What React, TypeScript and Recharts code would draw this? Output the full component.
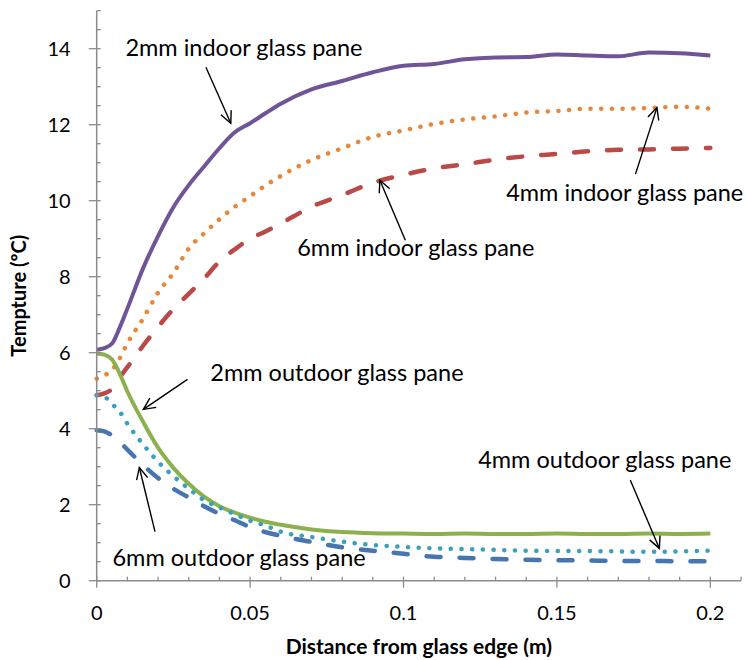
import React from 'react'
import { LineChart, Line, XAxis, YAxis, ReferenceLine, ReferenceDot } from 'recharts'

// distance from glass edge (m)
const distance = [
  0, 0.0025, 0.005, 0.0075, 0.01, 0.015, 0.02, 0.025, 0.03, 0.035, 0.04, 0.045, 0.05, 0.055, 0.06,
  0.07, 0.08, 0.09, 0.1, 0.11, 0.12, 0.13, 0.14, 0.15, 0.16, 0.17, 0.18, 0.19, 0.2,
]

// temperature (ºC) per pane
const indoor2mm = [
  6.08, 6.12, 6.24, 6.66, 7.16, 8.2, 9.07, 9.83, 10.41, 10.9, 11.38, 11.8, 12.04, 12.3, 12.55,
  12.93, 13.15, 13.38, 13.55, 13.6, 13.72, 13.77, 13.78, 13.85, 13.82, 13.8, 13.9, 13.88, 13.82,
]
const indoor4mm = [
  5.32, 5.4, 5.55, 5.85, 6.25, 6.88, 7.58, 8.1, 8.74, 9.14, 9.51, 9.84, 10.12, 10.4, 10.65,
  11.07, 11.38, 11.68, 11.85, 12.02, 12.14, 12.22, 12.32, 12.36, 12.42, 12.42, 12.44, 12.47, 12.42,
]
const indoor6mm = [
  4.88, 4.93, 5.05, 5.35, 5.62, 6.17, 6.68, 7.15, 7.55, 7.95, 8.4, 8.72, 9.0, 9.19, 9.4,
  9.84, 10.15, 10.47, 10.68, 10.85, 10.96, 11.08, 11.17, 11.23, 11.3, 11.34, 11.35, 11.37, 11.39,
]
const outdoor2mm = [
  5.98, 5.95, 5.82, 5.45, 4.98, 4.2, 3.5, 2.97, 2.55, 2.21, 1.96, 1.79, 1.66, 1.55, 1.47,
  1.35, 1.28, 1.25, 1.24, 1.23, 1.24, 1.23, 1.23, 1.24, 1.23, 1.23, 1.24, 1.23, 1.24,
]
const outdoor4mm = [
  4.88, 4.84, 4.65, 4.45, 4.13, 3.6, 3.13, 2.75, 2.42, 2.12, 1.93, 1.75, 1.58, 1.45, 1.29,
  1.15, 1.03, 0.94, 0.89, 0.85, 0.83, 0.81, 0.79, 0.78, 0.78, 0.77, 0.76, 0.77, 0.79,
]
const outdoor6mm = [
  3.96, 3.93, 3.82, 3.65, 3.45, 3.05, 2.7, 2.42, 2.19, 1.96, 1.76, 1.59, 1.41, 1.28, 1.18,
  1.02, 0.88, 0.79, 0.71, 0.63, 0.6, 0.57, 0.55, 0.54, 0.53, 0.52, 0.52, 0.51, 0.51,
]

const xTicks = [
  0, 0.01, 0.02, 0.03, 0.04, 0.05, 0.06, 0.07, 0.08, 0.09, 0.1, 0.11, 0.12, 0.13, 0.14, 0.15,
  0.16, 0.17, 0.18, 0.19, 0.2, 0.21,
]
const xLabeled = [0, 0.05, 0.1, 0.15, 0.2]
const yTicks = [
  0, 0.5, 1, 1.5, 2, 2.5, 3, 3.5, 4, 4.5, 5, 5.5, 6, 6.5, 7, 7.5, 8, 8.5, 9, 9.5, 10, 10.5, 11,
  11.5, 12, 12.5, 13, 13.5, 14, 14.5, 15,
]
const yLabeled = [0, 2, 4, 6, 8, 10, 12, 14]

// callouts: text centre and arrow (tail -> head), in data units
const callouts = [
  { text: '2mm indoor glass pane', tx: 0.048, ty: 14.03, x1: 0.0356, y1: 13.51, x2: 0.0437, y2: 12.04 },
  { text: '4mm indoor glass pane', tx: 0.1721, ty: 10.22, x1: 0.1756, y1: 10.7, x2: 0.1826, y2: 12.45 },
  { text: '6mm indoor glass pane', tx: 0.104, ty: 8.75, x1: 0.1006, y1: 8.96, x2: 0.0923, y2: 10.54 },
  { text: '2mm outdoor glass pane', tx: 0.0783, ty: 5.46, x1: 0.0296, y1: 5.3, x2: 0.0152, y2: 4.51 },
  { text: '6mm outdoor glass pane', tx: 0.0464, ty: 0.6, x1: 0.019, y1: 1.29, x2: 0.0139, y2: 2.98 },
  { text: '4mm outdoor glass pane', tx: 0.1656, ty: 3.17, x1: 0.1739, y1: 2.65, x2: 0.1834, y2: 0.85 },
]

const data = distance.map((x, i) => ({
  x,
  indoor2mm: indoor2mm[i],
  indoor4mm: indoor4mm[i],
  indoor6mm: indoor6mm[i],
  outdoor2mm: outdoor2mm[i],
  outdoor4mm: outdoor4mm[i],
  outdoor6mm: outdoor6mm[i],
}))

const FONT = 'Lato, "Open Sans", sans-serif'
const AXIS = '#8c8c8c'

const XTick = (props: any) => {
  const { x, y, payload } = props
  const major = xLabeled.some((v) => Math.abs(v - payload.value) < 1e-9)
  return (
    <g>
      <line x1={x} x2={x} y1={y - 4} y2={major ? y + 7 : y} stroke={AXIS} strokeWidth={1.3} />
      {major && (
        <text x={x} y={y + 32} dy="0.35em" textAnchor="middle" fontSize={20} fontFamily={FONT} fill="#000">
          {payload.value}
        </text>
      )}
    </g>
  )
}

const YTick = (props: any) => {
  const { x, y, payload } = props
  const major = yLabeled.includes(payload.value)
  return (
    <g>
      <line x1={major ? x - 8 : x} x2={x + 4} y1={y} y2={y} stroke={AXIS} strokeWidth={1.3} />
      {major && (
        <text x={x - 26} y={y} dy="0.36em" textAnchor="end" fontSize={20} fontFamily={FONT} fill="#000">
          {payload.value}
        </text>
      )}
    </g>
  )
}

const Arrow = (props: any) => {
  const { x1, y1, x2, y2 } = props
  const a = Math.atan2(y2 - y1, x2 - x1)
  const len = 13
  const spread = 0.45
  const h1x = x2 - len * Math.cos(a - spread)
  const h1y = y2 - len * Math.sin(a - spread)
  const h2x = x2 - len * Math.cos(a + spread)
  const h2y = y2 - len * Math.sin(a + spread)
  return (
    <g stroke="#000" strokeWidth={1.4} fill="none">
      <line x1={x1} y1={y1} x2={x2} y2={y2} />
      <polyline points={`${h1x},${h1y} ${x2},${y2} ${h2x},${h2y}`} />
    </g>
  )
}

export default function App() {
  return (
    <div style={{ position: 'absolute', left: 0, top: 0, background: '#fff' }}>
      <LineChart width={746} height={660} data={data} margin={{ top: 10.7, right: 5, left: 0, bottom: 0 }}>
        <XAxis
          type="number"
          dataKey="x"
          domain={[0, 0.21]}
          ticks={xTicks}
          interval={0}
          tick={<XTick />}
          tickLine={false}
          tickSize={0}
          tickMargin={0}
          axisLine={{ stroke: AXIS, strokeWidth: 1.5 }}
          height={79.3}
          label={(p: any) => {
            const vb = p.viewBox
            return (
              <text
                x={vb.x + vb.width / 2}
                y={vb.y + 66}
                dy="0.35em"
                textAnchor="middle"
                fontSize={21}
                fontWeight="bold"
                fontFamily={FONT}
                fill="#000"
              >
                Distance from glass edge (m)
              </text>
            )
          }}
        />
        <YAxis
          type="number"
          domain={[0, 15]}
          ticks={yTicks}
          interval={0}
          tick={<YTick />}
          tickLine={false}
          tickSize={0}
          tickMargin={0}
          axisLine={{ stroke: AXIS, strokeWidth: 1.5 }}
          width={96.7}
          label={(p: any) => {
            const vb = p.viewBox
            const cy = vb.y + vb.height / 2
            return (
              <text
                x={19}
                y={cy}
                dy="0.35em"
                transform={`rotate(-90 19 ${cy})`}
                textAnchor="middle"
                fontSize={20}
                fontWeight="bold"
                fontFamily={FONT}
                fill="#000"
              >
                Tempture (ºC)
              </text>
            )
          }}
        />
        <Line dataKey="indoor2mm" type="monotone" stroke="#6f5597" strokeWidth={4} dot={false} isAnimationActive={false} />
        <Line
          dataKey="indoor4mm"
          type="monotone"
          stroke="#e8873a"
          strokeWidth={4.5}
          strokeDasharray="0.1 10.6"
          strokeLinecap="round"
          dot={false}
          isAnimationActive={false}
        />
        <Line
          dataKey="indoor6mm"
          type="monotone"
          stroke="#b94a48"
          strokeWidth={4.5}
          strokeDasharray="14 19"
          strokeLinecap="round"
          dot={false}
          isAnimationActive={false}
        />
        <Line dataKey="outdoor2mm" type="monotone" stroke="#8db04f" strokeWidth={4} dot={false} isAnimationActive={false} />
        <Line
          dataKey="outdoor4mm"
          type="monotone"
          stroke="#3aa0bc"
          strokeWidth={4.5}
          strokeDasharray="0.1 10.6"
          strokeLinecap="round"
          dot={false}
          isAnimationActive={false}
        />
        <Line
          dataKey="outdoor6mm"
          type="monotone"
          stroke="#4675b0"
          strokeWidth={4.5}
          strokeDasharray="14 19"
          strokeLinecap="round"
          dot={false}
          isAnimationActive={false}
        />
        {callouts.map((c) => (
          <ReferenceLine
            key={c.text + '-arrow'}
            segment={[
              { x: c.x1, y: c.y1 },
              { x: c.x2, y: c.y2 },
            ]}
            ifOverflow="visible"
            shape={<Arrow />}
          />
        ))}
        {callouts.map((c) => (
          <ReferenceDot
            key={c.text}
            x={c.tx}
            y={c.ty}
            r={1}
            fill="none"
            stroke="none"
            ifOverflow="visible"
            label={(p: any) => {
              const vb = p.viewBox
              return (
                <text
                  x={vb.x + vb.width / 2}
                  y={vb.y + vb.height / 2}
                  dy="0.35em"
                  textAnchor="middle"
                  fontSize={23.5}
                  fontFamily={FONT}
                  fill="#000"
                >
                  {c.text}
                </text>
              )
            }}
          />
        ))}
      </LineChart>
    </div>
  )
}
